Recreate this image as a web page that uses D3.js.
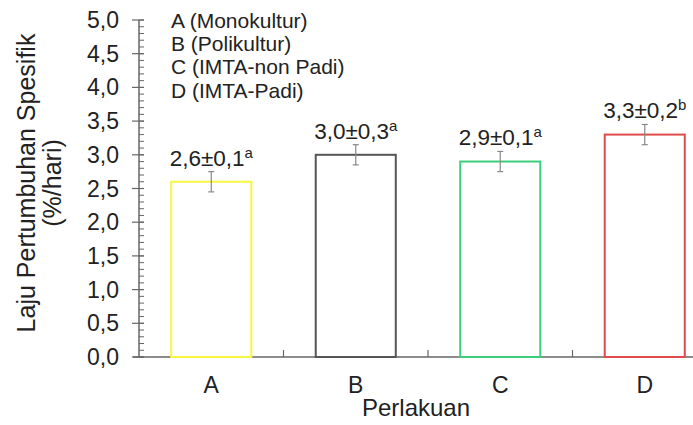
<!DOCTYPE html>
<html>
<head>
<meta charset="utf-8">
<script src="https://cdn.jsdelivr.net/npm/d3@7"></script>
<style>
  body { margin: 0; background: #fff; }
  text { font-family: "Liberation Sans", Arial, sans-serif; fill: #222; }
</style>
</head>
<body>
<script>
var width = 693,
    height = 425;

// data
var categories = ['A', 'B', 'C', 'D'];
var values = [2.6, 3.0, 2.9, 3.3];
var errors = [0.15, 0.15, 0.15, 0.15];
var labels = ['2,6±0,1', '3,0±0,3', '2,9±0,1', '3,3±0,2'];
var letters = ['a', 'a', 'a', 'b'];
var colors = ['#f7f740', '#555555', '#3ccf7a', '#e04a4a'];
var legendItems = ['A (Monokultur)', 'B (Polikultur)', 'C (IMTA-non Padi)', 'D (IMTA-Padi)'];
var yTicks = [0, 0.5, 1, 1.5, 2, 2.5, 3, 3.5, 4, 4.5, 5];

var bars = categories.map(function(c, i) {
  return { cat: c, value: values[i], err: errors[i], label: labels[i], letter: letters[i], color: colors[i] };
});

var svg = d3.select('body')
  .append('svg')
  .attr('width', width)
  .attr('height', height);

var y = d3.scaleLinear()
  .domain([0, 5])
  .range([357, 20]);

var x = d3.scaleBand()
  .domain(categories)
  .range([139, 717])
  .paddingInner(0.446)
  .paddingOuter(0.223);

var fmt = function(d) { return d3.format('.1f')(d).replace('.', ','); };

// y axis
var yAxis = svg.append('g').attr('id', 'y-axis');

yAxis.append('line')
  .attr('x1', x.range()[0]).attr('x2', x.range()[0])
  .attr('y1', y(0)).attr('y2', y(5))
  .attr('stroke', '#666').attr('stroke-width', 1.5);

yAxis.selectAll('line.minor')
  .data(d3.range(0, 51).map(function(d) { return d / 10; }))
  .enter()
  .append('line')
  .attr('class', 'minor')
  .attr('x1', x.range()[0]).attr('x2', x.range()[0] + 5)
  .attr('y1', function(d) { return y(d); })
  .attr('y2', function(d) { return y(d); })
  .attr('stroke', '#666').attr('stroke-width', 1);

yAxis.selectAll('line.major')
  .data(yTicks)
  .enter()
  .append('line')
  .attr('class', 'major')
  .attr('x1', x.range()[0] - 7).attr('x2', x.range()[0] + 5)
  .attr('y1', function(d) { return y(d); })
  .attr('y2', function(d) { return y(d); })
  .attr('stroke', '#666').attr('stroke-width', 1.2);

yAxis.selectAll('text')
  .data(yTicks)
  .enter()
  .append('text')
  .attr('x', 119)
  .attr('y', function(d) { return y(d) + 8; })
  .attr('text-anchor', 'end')
  .style('font-size', '23px')
  .text(fmt);

// x axis
var xAxis = svg.append('g').attr('id', 'x-axis');

xAxis.append('line')
  .attr('x1', 133).attr('x2', width)
  .attr('y1', y(0)).attr('y2', y(0))
  .attr('stroke', '#666').attr('stroke-width', 1.5);

xAxis.selectAll('line.tick')
  .data(categories.slice(1))
  .enter()
  .append('line')
  .attr('class', 'tick')
  .attr('x1', function(d) { return x(d) - x.step() * x.paddingInner() / 2; })
  .attr('x2', function(d) { return x(d) - x.step() * x.paddingInner() / 2; })
  .attr('y1', y(0)).attr('y2', y(0) - 7)
  .attr('stroke', '#666').attr('stroke-width', 1.2);

xAxis.selectAll('text')
  .data(categories)
  .enter()
  .append('text')
  .attr('x', function(d) { return x(d) + x.bandwidth() / 2; })
  .attr('y', 393)
  .attr('text-anchor', 'middle')
  .style('font-size', '23px')
  .text(function(d) { return d; });

// bars
var barG = svg.append('g').attr('id', 'bars');

barG.selectAll('rect')
  .data(bars)
  .enter()
  .append('rect')
  .attr('x', function(d) { return x(d.cat); })
  .attr('y', function(d) { return y(d.value); })
  .attr('width', x.bandwidth())
  .attr('height', function(d) { return y(0) - y(d.value); })
  .attr('fill', 'none')
  .attr('stroke', function(d) { return d.color; })
  .attr('stroke-width', 2);

// error bars
var errG = svg.append('g').attr('id', 'errors');

var cx = function(d) { return x(d.cat) + x.bandwidth() / 2; };

errG.selectAll('line.stem')
  .data(bars)
  .enter()
  .append('line')
  .attr('class', 'stem')
  .attr('x1', cx).attr('x2', cx)
  .attr('y1', function(d) { return y(d.value + d.err); })
  .attr('y2', function(d) { return y(d.value - d.err); })
  .attr('stroke', '#888').attr('stroke-width', 1.2);

errG.selectAll('line.cap-top')
  .data(bars)
  .enter()
  .append('line')
  .attr('class', 'cap-top')
  .attr('x1', function(d) { return cx(d) - 3; })
  .attr('x2', function(d) { return cx(d) + 3; })
  .attr('y1', function(d) { return y(d.value + d.err); })
  .attr('y2', function(d) { return y(d.value + d.err); })
  .attr('stroke', '#888').attr('stroke-width', 1.2);

errG.selectAll('line.cap-bottom')
  .data(bars)
  .enter()
  .append('line')
  .attr('class', 'cap-bottom')
  .attr('x1', function(d) { return cx(d) - 3; })
  .attr('x2', function(d) { return cx(d) + 3; })
  .attr('y1', function(d) { return y(d.value - d.err); })
  .attr('y2', function(d) { return y(d.value - d.err); })
  .attr('stroke', '#888').attr('stroke-width', 1.2);

// value labels
var lab = svg.append('g').attr('id', 'labels')
  .selectAll('text')
  .data(bars)
  .enter()
  .append('text')
  .attr('x', cx)
  .attr('y', function(d) { return y(d.value + d.err) - 6; })
  .attr('text-anchor', 'middle')
  .style('font-size', '22.5px');

lab.append('tspan').text(function(d) { return d.label; });
lab.append('tspan')
  .attr('dy', -8)
  .style('font-size', '15px')
  .text(function(d) { return d.letter; });

// legend
svg.append('g').attr('id', 'legend')
  .selectAll('text')
  .data(legendItems)
  .enter()
  .append('text')
  .attr('x', 171)
  .attr('y', function(d, i) { return 28 + i * 23.2; })
  .style('font-size', '21px')
  .text(function(d) { return d; });

// axis titles
svg.append('text')
  .attr('x', 416)
  .attr('y', 416)
  .attr('text-anchor', 'middle')
  .style('font-size', '24px')
  .text('Perlakuan');

var yTitle = svg.append('text')
  .attr('transform', 'translate(35,183) rotate(-90)')
  .attr('text-anchor', 'middle')
  .style('font-size', '25px');

yTitle.append('tspan').attr('x', 0).attr('dy', 0).text('Laju Pertumbuhan Spesifik');
yTitle.append('tspan').attr('x', 0).attr('dy', 26).text('(%/hari)');
</script>
</body>
</html>
